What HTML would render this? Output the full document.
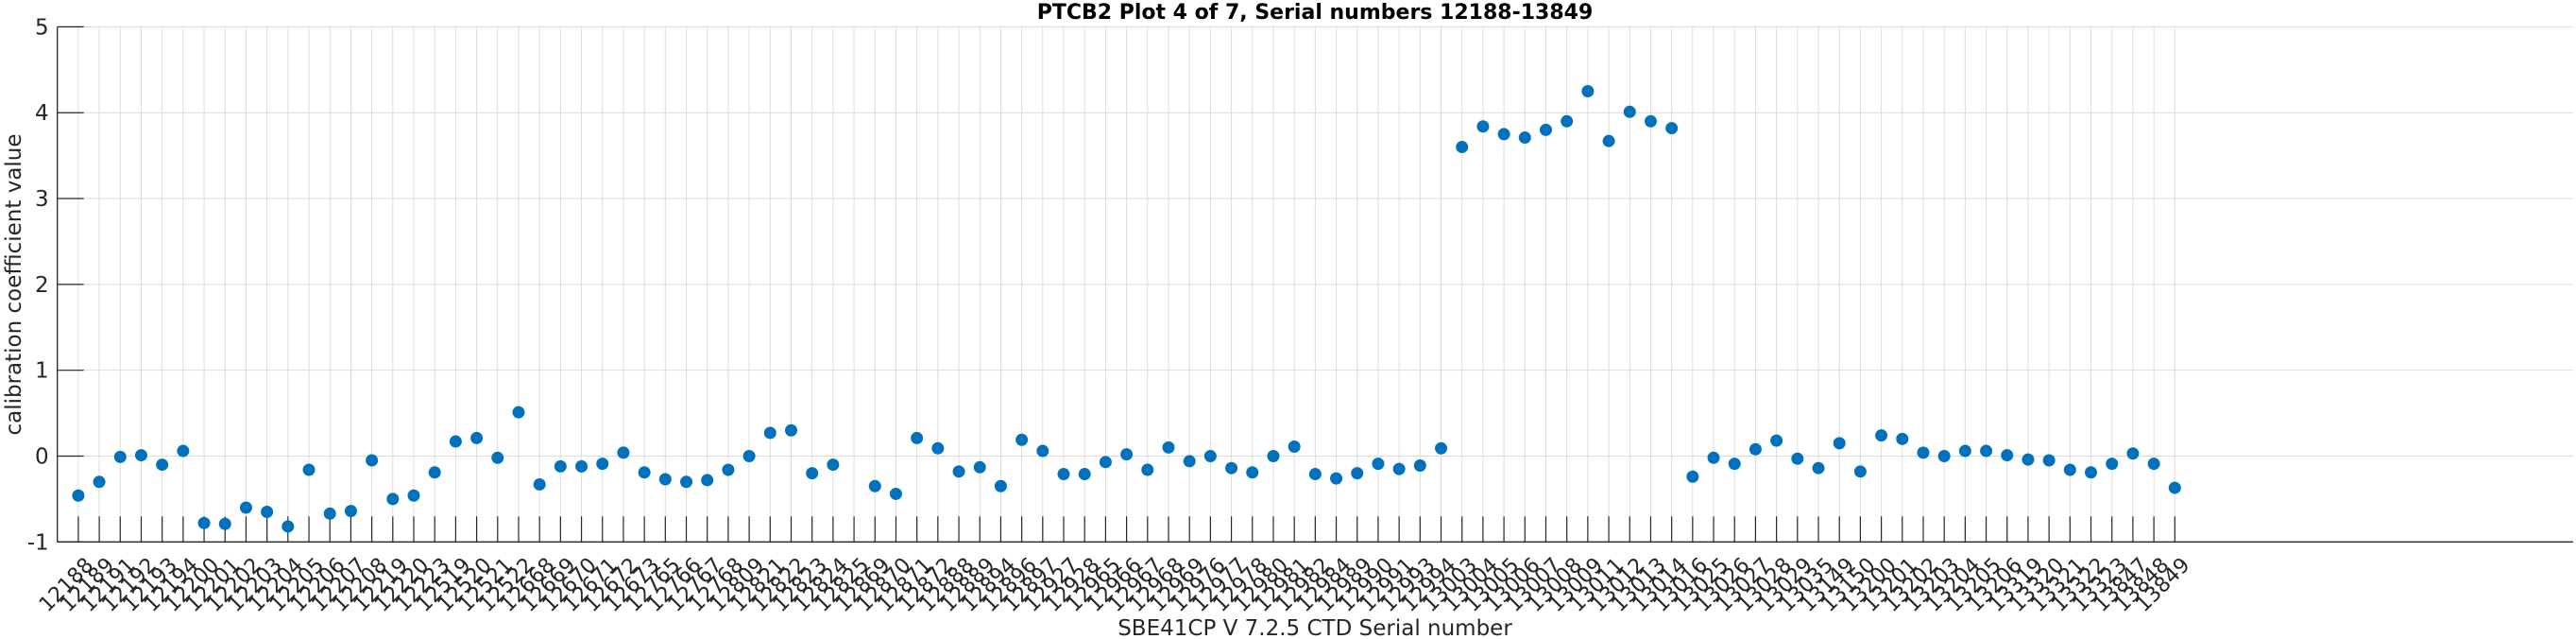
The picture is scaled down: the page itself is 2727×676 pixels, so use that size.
<!DOCTYPE html>
<html><head><meta charset="utf-8"><style>
html,body{margin:0;padding:0;background:#fff;}
svg{display:block;font-family:"DejaVu Sans","Liberation Sans",sans-serif;}
</style></head><body>
<svg id="chart" width="2727" height="676" viewBox="0 0 2727 676" xmlns="http://www.w3.org/2000/svg">
<text x="1392" y="20" text-anchor="middle" font-weight="bold" font-size="22" fill="#000">PTCB2 Plot 4 of 7, Serial numbers 12188-13849</text>
<text transform="translate(22,301) rotate(-90)" text-anchor="middle" font-size="23" fill="#262626">calibration coefficient value</text>
<text x="1392" y="672" text-anchor="middle" font-size="23" fill="#262626">SBE41CP V 7.2.5 CTD Serial number</text>
<g id="grid"></g>
<g id="axes"></g>
<g id="points"></g>
</svg>
<script>
const serials = ["12188","12189","12191","12192","12193","12194","12200","12201","12202","12203","12204","12205","12206","12207","12208","12219","12220","12223","12519","12520","12521","12522","12668","12669","12670","12671","12672","12673","12765","12766","12767","12768","12809","12821","12822","12823","12824","12825","12869","12870","12871","12872","12888","12889","12894","12896","12897","12927","12928","12965","12966","12967","12968","12969","12976","12977","12978","12980","12981","12982","12984","12989","12990","12991","12993","12994","13003","13004","13005","13006","13007","13008","13009","13011","13012","13013","13014","13016","13025","13026","13027","13028","13029","13035","13149","13150","13200","13201","13202","13203","13204","13205","13206","13319","13320","13321","13322","13323","13847","13848","13849"];
const values = [-0.46,-0.30,-0.01,0.01,-0.10,0.06,-0.78,-0.79,-0.60,-0.65,-0.82,-0.16,-0.67,-0.64,-0.05,-0.50,-0.46,-0.19,0.17,0.21,-0.02,0.51,-0.33,-0.12,-0.12,-0.09,0.04,-0.19,-0.27,-0.30,-0.28,-0.16,0.00,0.27,0.30,-0.20,-0.10,null,-0.35,-0.44,0.21,0.09,-0.18,-0.13,-0.35,0.19,0.06,-0.21,-0.21,-0.07,0.02,-0.16,0.10,-0.06,0.00,-0.14,-0.19,0.00,0.11,-0.21,-0.26,-0.20,-0.09,-0.15,-0.11,0.09,3.60,3.84,3.75,3.71,3.80,3.90,4.25,3.67,4.01,3.90,3.82,-0.24,-0.02,-0.09,0.08,0.18,-0.03,-0.14,0.15,-0.18,0.24,0.20,0.04,0.00,0.06,0.06,0.01,-0.04,-0.05,-0.16,-0.19,-0.09,0.03,-0.09,-0.37];
const yTicks = [-1,0,1,2,3,4,5];
const xMin = 0, xMax = 120, yMin = -1, yMax = 5;

const L = 60.7, R = 2724, T = 28.4, B = 573.3;
function xs(i){ return L + (i - xMin) / (xMax - xMin) * (R - L); }
function ys(v){ return B - (v - yMin) / (yMax - yMin) * (B - T); }
const NS = "http://www.w3.org/2000/svg";
function mk(tag, attrs, parent){ const e = document.createElementNS(NS, tag); for (const k in attrs) e.setAttribute(k, attrs[k]); parent.appendChild(e); return e; }
const grid = document.getElementById('grid'), axes = document.getElementById('axes'), pts = document.getElementById('points');

yTicks.forEach(function(t){
  const y = ys(t);
  const g = mk('line', {x1:L, x2:R, y1:y, y2:y, stroke:'#dcdcdc', 'stroke-width':1}, grid);
  
  
  const tk = mk('line', {x1:L, x2:L+28, y1:y, y2:y, stroke:'#262626', 'stroke-width':1.2}, axes);
  
  
  const lb = mk('text', {x:L-9, y:y+8, 'text-anchor':'end', 'font-size':23, fill:'#262626'}, axes);
  lb.textContent = String(t);
  
  
});

serials.forEach(function(s, i){
  const x = xs(i + 1);
  const g = mk('line', {x1:x, x2:x, y1:T, y2:B, stroke:'#dcdcdc', 'stroke-width':1}, grid);
  
  
  const tk = mk('line', {x1:x, x2:x, y1:B-27, y2:B, stroke:'#262626', 'stroke-width':1.2}, axes);
  
  
  const lb = mk('text', {transform:'translate(' + (x + 17) + ',599) rotate(-45)', 'text-anchor':'end', 'font-size':22, fill:'#262626'}, axes);
  lb.textContent = s;
  
  
});

const yAxis = mk('line', {x1:L, x2:L, y1:T, y2:B, stroke:'#262626', 'stroke-width':1.3}, axes);


const xAxis = mk('line', {x1:L, x2:R, y1:B, y2:B, stroke:'#262626', 'stroke-width':1.3}, axes);



values.forEach(function(v, i){
  if (v === null) return;
  const c = mk('circle', {cx:xs(i + 1), cy:ys(v), r:6.5, fill:'#0072BD'}, pts);
  
  
});
</script>
</body></html>
